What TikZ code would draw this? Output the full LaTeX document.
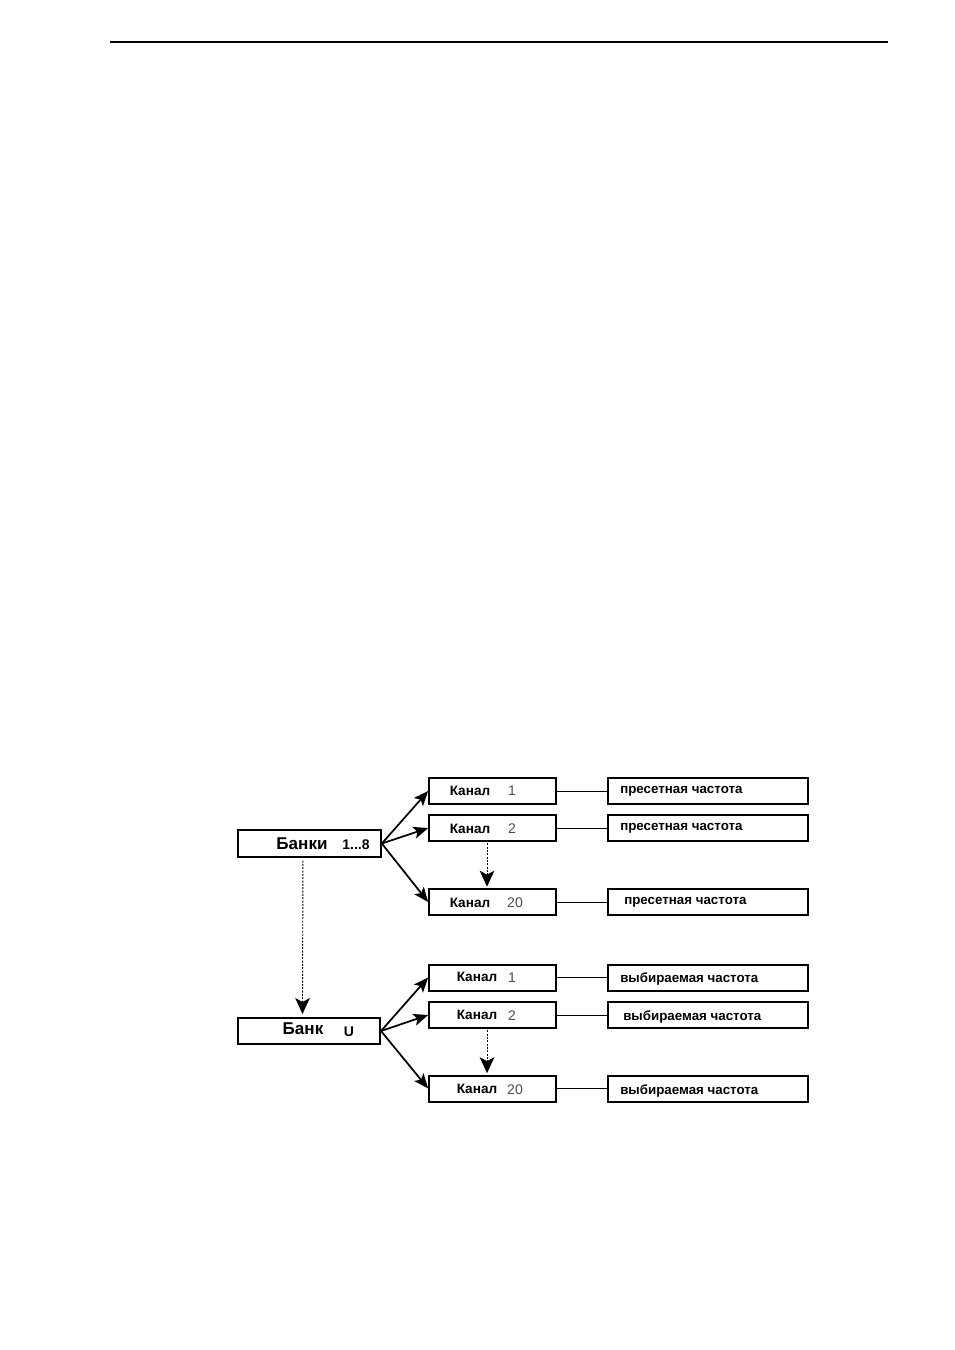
\documentclass[tikz,border=0pt]{standalone}
\usepackage{fontspec}
\setmainfont{Liberation Sans}
\usetikzlibrary{arrows.meta}
\begin{document}
\begin{tikzpicture}[x=0.75pt,y=-0.75pt,
  box/.style={draw,line width=1.5pt,minimum width=#1,minimum height=19.5pt,inner sep=0pt},
  box/.default=95pt,
  lbl/.style={font=\bfseries\fontsize{10.2}{11}\selectfont,inner sep=0pt},
  num/.style={font=\fontsize{10.5}{11}\selectfont,text=black!70,inner sep=0pt},
  rlbl/.style={font=\bfseries\fontsize{10}{11}\selectfont,inner sep=0pt,anchor=west},
  arr/.style={line width=1.3pt,-{Stealth[length=11pt,width=9pt,inset=2.5pt]}},
  darr/.style={line width=0.7pt,dash pattern=on 1.5pt off 1pt,-{Stealth[length=12pt,width=11pt,inset=3pt]}},
  link/.style={line width=0.7pt}]
\useasboundingbox (0,0) rectangle (954,1350);
\draw[line width=1.1pt] (110,42) -- (888,42);

% upper group
\node[box=107pt,minimum height=20pt] (b1) at (309.5,843.5) {};
\node[font=\bfseries\fontsize{12.8}{13}\selectfont,inner sep=0pt] (b1t) at (302,843.5) {Банки};
\node[font=\bfseries\fontsize{10.5}{11}\selectfont,inner sep=0pt] (b1n) at (356,845) {1...8};

\node[box] (k1) at (492.5,791) {};
\node[box] (k2) at (492.5,828) {};
\node[box] (k3) at (492.5,902) {};
\node[lbl] (k1t) at (470,791) {Канал};
\node[num] (k1n) at (512,791) {1};
\node[lbl] (k2t) at (470,828.5) {Канал};
\node[num] (k2n) at (512,828.5) {2};
\node[lbl] (k3t) at (470,903) {Канал};
\node[num] (k3n) at (515,903) {20};

\node[box=150pt] (p1) at (708,791) {};
\node[box=150pt] (p2) at (708,828) {};
\node[box=150pt] (p3) at (708,902) {};
\node[rlbl] (p1t) at (620,791.5) {пресетная частота};
\node[rlbl] (p2t) at (620,828.5) {пресетная частота};
\node[rlbl] (p3t) at (624,902.5) {пресетная частота};

\draw[arr] (b1.east) -- (k1.west);
\draw[arr] (b1.east) -- (k2.west);
\draw[arr] (b1.east) -- (k3.west);
\draw[link] (k1.east) -- (p1.west);
\draw[link] (k2.east) -- (p2.west);
\draw[link] (k3.east) -- (p3.west);
\draw[darr] ([xshift=-4.1pt,yshift=-1pt]k2.south) -- ([xshift=-4.1pt,yshift=1pt]k3.north);

% lower group
\node[box=106.5pt,minimum height=20pt] (b2) at (309,1031) {};
\node[font=\bfseries\fontsize{12.8}{13}\selectfont,inner sep=0pt] (b2t) at (303,1028.5) {Банк};
\node[font=\bfseries\fontsize{10.5}{11}\selectfont,inner sep=0pt] (b2n) at (349,1032) {U};

\node[box] (q1) at (492.5,977.5) {};
\node[box] (q2) at (492.5,1015) {};
\node[box] (q3) at (492.5,1088.5) {};
\node[lbl] (q1t) at (477,977) {Канал};
\node[num] (q1n) at (512,978) {1};
\node[lbl] (q2t) at (477,1015) {Канал};
\node[num] (q2n) at (512,1015.5) {2};
\node[lbl] (q3t) at (477,1089) {Канал};
\node[num] (q3n) at (515,1089.5) {20};

\node[box=150pt] (v1) at (708,977.5) {};
\node[box=150pt] (v2) at (708,1015) {};
\node[box=150pt] (v3) at (708,1088.5) {};
\node[rlbl] (v1t) at (620,978.5) {выбираемая частота};
\node[rlbl] (v2t) at (623,1016.5) {выбираемая частота};
\node[rlbl] (v3t) at (620,1090.5) {выбираемая частота};

\draw[arr] (b2.east) -- (q1.west);
\draw[arr] (b2.east) -- (q2.west);
\draw[arr] (b2.east) -- (q3.west);
\draw[link] (q1.east) -- (v1.west);
\draw[link] (q2.east) -- (v2.west);
\draw[link] (q3.east) -- (v3.west);
\draw[darr] ([xshift=-4.1pt,yshift=-1pt]q2.south) -- ([xshift=-4.1pt,yshift=1pt]q3.north);

\draw[darr] ([xshift=-4.9pt,yshift=-2pt]b1.south) -- ([xshift=-4.9pt,yshift=2pt]b2.north);
\end{tikzpicture}
\end{document}
